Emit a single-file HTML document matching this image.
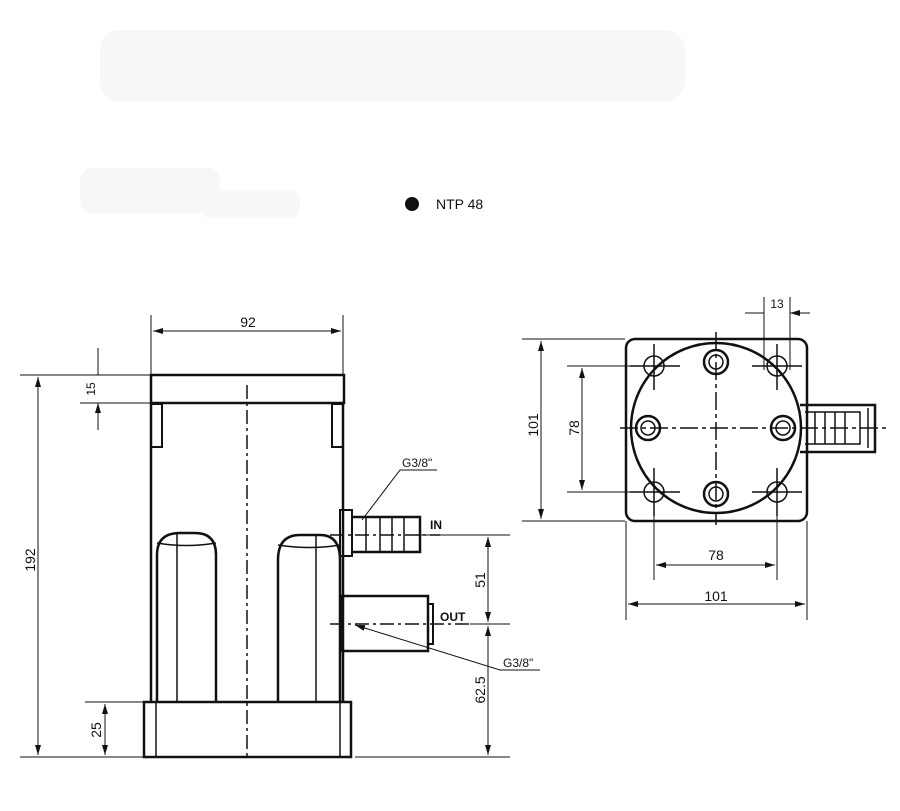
<!DOCTYPE html>
<html><head><style>body{margin:0;background:#fff}svg{display:block}text{font-family:"Liberation Sans",sans-serif;fill:#111}</style></head><body>
<svg width="900" height="811" viewBox="0 0 900 811" xmlns="http://www.w3.org/2000/svg">
<defs>
<marker id="a" viewBox="0 0 10 6" refX="10" refY="3" markerWidth="10" markerHeight="6" orient="auto-start-reverse" markerUnits="userSpaceOnUse"><path d="M0 0L10 3L0 6z" fill="#111"/></marker>
</defs>
<rect x="100" y="30" width="585" height="72" rx="20" fill="#f7f7f7"/>
<rect x="80" y="168" width="140" height="45" rx="12" fill="#f7f7f7"/>
<rect x="200" y="190" width="100" height="28" rx="10" fill="#f8f8f8"/>
<circle cx="412" cy="204" r="7" fill="#111"/>
<text x="436" y="209" font-size="14">NTP 48</text>

<g fill="none" stroke="#111" stroke-width="1">
<g stroke-width="2.5">
<rect x="151" y="375" width="193" height="28"/>
<path d="M151 403V702M343 403V702"/>
<rect x="144" y="702" width="207" height="55"/>
<path d="M157 702V555Q157 533 180 533H195Q216 533 216 555V702"/>
<path d="M278 702V560Q278 535 300 535H320Q340 535 340 560V702"/>
<rect x="341" y="596" width="87" height="55"/>
<rect x="428" y="604" width="5" height="40" stroke-width="2"/>
<rect x="340" y="510" width="12" height="46" stroke-width="2"/>
<path d="M352 517H420V552H352"/>
<path d="M152 404H162V447H152M343 404H332V447H343" stroke-width="2"/>
</g>
<path d="M157 543Q186 548 216 543M278 545Q310 550 340 545M177 533V702M316 535V702M156 702V757M340 702V757M366 517V552M380 517V552M392 517V552M404 517V552" stroke-width="1.5"/>
<path d="M247 385V760M330 624H470M330 535H440" stroke-dasharray="14 4 3 4" stroke-width="1.5"/>

<path d="M151 315V375M343 315V375"/>
<path d="M153 331H341" marker-start="url(#a)" marker-end="url(#a)"/>
<path d="M80 375H150M80 403H150M20 375H150M20 757H143M85 702H143"/>
<path d="M98 348V375M98 430V403" marker-end="url(#a)"/>
<path d="M38 377V755" marker-start="url(#a)" marker-end="url(#a)"/>
<path d="M105 704V755" marker-start="url(#a)" marker-end="url(#a)"/>
<path d="M420 535H510M470 624H510M355 757H510"/>
<path d="M488 537V622" marker-start="url(#a)" marker-end="url(#a)"/>
<path d="M488 626V755" marker-start="url(#a)" marker-end="url(#a)"/>
<path d="M437 470H400L362 520"/>
<path d="M540 670H500L355 625" marker-end="url(#a)"/>

<g stroke-width="2.5">
<rect x="626" y="339" width="181" height="182" rx="9"/>
<circle cx="716" cy="428" r="85"/>
<circle cx="716" cy="362" r="12"/><circle cx="716" cy="494" r="12"/><circle cx="648" cy="428" r="12"/><circle cx="783" cy="428" r="12"/>
<path d="M800 405H875V452H800"/>
</g>
<g stroke-width="1.5">
<circle cx="716" cy="362" r="7"/><circle cx="716" cy="494" r="7"/><circle cx="648" cy="428" r="7"/><circle cx="783" cy="428" r="7"/>
<circle cx="654" cy="366" r="10"/><circle cx="777" cy="366" r="10"/><circle cx="654" cy="492" r="10"/><circle cx="777" cy="492" r="10"/>
<path d="M630 366H680M752 366H802M630 492H680M752 492H802M654 344V390M777 344V390M654 468V516M777 468V516"/>
<path d="M805 412H860V444H805M815 412V444M825 412V444M835 412V444M845 412V444M868 408V448"/>
</g>
<path d="M620 428H890M716 332V525" stroke-dasharray="18 4 4 4" stroke-width="1.5"/>
<path d="M764 297V370M790 297V370"/>
<path d="M745 313H764M810 313H790" marker-end="url(#a)"/>
<path d="M522 339H625M567 366H650M522 521H625M567 492H650"/>
<path d="M541 341V519" marker-start="url(#a)" marker-end="url(#a)"/>
<path d="M582 368V490" marker-start="url(#a)" marker-end="url(#a)"/>
<path d="M654 500V580M777 500V580M626 521V620M807 521V620"/>
<path d="M656 565H775" marker-start="url(#a)" marker-end="url(#a)"/>
<path d="M628 604H805" marker-start="url(#a)" marker-end="url(#a)"/>
</g>

<g font-size="14">
<text x="248" y="327" text-anchor="middle">92</text>
<text transform="translate(95 389) rotate(-90)" text-anchor="middle" font-size="12">15</text>
<text transform="translate(35 560) rotate(-90)" text-anchor="middle">192</text>
<text transform="translate(101 730) rotate(-90)" text-anchor="middle">25</text>
<text transform="translate(485 580) rotate(-90)" text-anchor="middle">51</text>
<text transform="translate(485 690) rotate(-90)" text-anchor="middle">62.5</text>
<text x="402" y="467" font-size="12">G3/8"</text>
<text x="503" y="667" font-size="12">G3/8"</text>
<text x="430" y="529" font-size="12" font-weight="bold">IN</text>
<text x="440" y="621" font-size="12" font-weight="bold">OUT</text>
<text x="777" y="308" text-anchor="middle" font-size="12">13</text>
<text transform="translate(538 425) rotate(-90)" text-anchor="middle">101</text>
<text transform="translate(579 428) rotate(-90)" text-anchor="middle">78</text>
<text x="716" y="560" text-anchor="middle">78</text>
<text x="716" y="601" text-anchor="middle">101</text>
</g>
</svg>
</body></html>
